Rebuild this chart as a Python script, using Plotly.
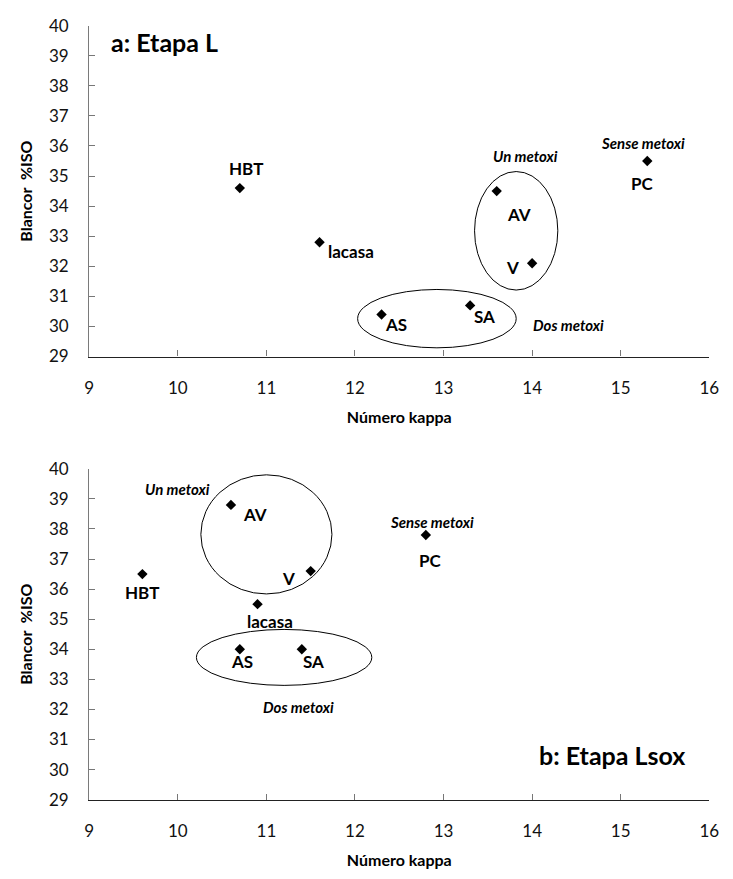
import plotly.graph_objects as go

# Samples and their kappa number / ISO brightness after each stage
samples = ["HBT", "lacasa", "AS", "SA", "AV", "V", "PC"]

kappa_L = [10.7, 11.6, 12.3, 13.3, 13.6, 14.0, 15.3]
bright_L = [34.6, 32.8, 30.4, 30.7, 34.5, 32.1, 35.5]

kappa_Lsox = [9.6, 10.9, 10.7, 11.4, 10.6, 11.5, 12.8]
bright_Lsox = [36.5, 35.5, 34.0, 34.0, 38.8, 36.6, 37.8]

x_ticks = [9, 10, 11, 12, 13, 14, 15, 16]
y_ticks = list(range(29, 41))

# label offsets (pixels) relative to each point
offs_L = {"HBT": (6, -20), "lacasa": (31, 9), "AS": (14, 10), "SA": (14, 11),
          "AV": (22, 23), "V": (-20, 4), "PC": (-5, 22)}
offs_Lsox = {"HBT": (0, 18), "lacasa": (12, 17), "AS": (2, 12), "SA": (12, 12),
             "AV": (24, 10), "V": (-22, 7), "PC": (5, 26)}

FONT = "Lato"
W, H = 733, 879

fig = go.Figure()

fig.add_trace(go.Scatter(x=kappa_L, y=bright_L, mode="markers",
                         marker=dict(symbol="diamond", size=8, color="black"),
                         xaxis="x", yaxis="y", showlegend=False, hoverinfo="skip"))
fig.add_trace(go.Scatter(x=kappa_Lsox, y=bright_Lsox, mode="markers",
                         marker=dict(symbol="diamond", size=8, color="black"),
                         xaxis="x2", yaxis="y2", showlegend=False, hoverinfo="skip"))

annotations = []
for xs, ys, offs, xr, yr in [(kappa_L, bright_L, offs_L, "x", "y"),
                              (kappa_Lsox, bright_Lsox, offs_Lsox, "x2", "y2")]:
    for name, xv, yv in zip(samples, xs, ys):
        dx, dy = offs[name]
        annotations.append(dict(x=xv, y=yv, xref=xr, yref=yr, text=name,
                                showarrow=False, xshift=dx, yshift=-dy,
                                font=dict(family=FONT, size=17, color="black", weight="bold")))

def group_label(text, x, y, xr, yr):
    return dict(x=x, y=y, xref=xr, yref=yr, text=f"<i>{text}</i>", showarrow=False,
                font=dict(family=FONT, size=15, color="black", weight="bold"))

annotations += [
    group_label("Un metoxi", 13.92, 35.68, "x", "y"),
    group_label("Sense metoxi", 15.25, 36.1, "x", "y"),
    group_label("Dos metoxi", 14.41, 30.04, "x", "y"),
    group_label("Un metoxi", 10.0, 39.34, "x2", "y2"),
    group_label("Sense metoxi", 12.87, 38.24, "x2", "y2"),
    group_label("Dos metoxi", 11.36, 32.07, "x2", "y2"),
    dict(x=9.85, y=39.45, xref="x", yref="y", text="a: Etapa L", showarrow=False,
         font=dict(family=FONT, size=25, color="black", weight="bold")),
    dict(x=14.9, y=30.49, xref="x2", yref="y2", text="b: Etapa Lsox", showarrow=False,
         font=dict(family=FONT, size=25, color="black", weight="bold")),
]

# grouping ellipses
shapes = []
for xr, yr, x0, x1, y0, y1 in [("x", "y", 13.35, 14.29, 31.21, 35.15),
                               ("x", "y", 12.03, 13.82, 29.29, 31.23),
                               ("x2", "y2", 10.26, 11.74, 35.84, 39.80),
                               ("x2", "y2", 10.21, 12.19, 32.80, 34.66)]:
    shapes.append(dict(type="circle", xref=xr, yref=yr, x0=x0, x1=x1, y0=y0, y1=y1,
                       line=dict(color="black", width=1)))

x_dom = [86 / W, 719 / W]
y_dom_top = [(H - 354) / H, (H - 15) / H]
y_dom_bot = [(H - 808) / H, (H - 469) / H]

xax = dict(range=[9, 16], tickvals=x_ticks, ticks="inside", ticklen=6,
           tickcolor="#777777", linecolor="#222222", linewidth=1.3, showline=True,
           showgrid=False, zeroline=False, domain=x_dom, ticklabelstandoff=16,
           tickfont=dict(family=FONT, size=17, color="#111111"),
           title=dict(text="<b>Número kappa</b>", standoff=14,
                      font=dict(family=FONT, size=16, color="black")))
yax = dict(range=[29, 40], tickvals=y_ticks, ticks="inside", ticklen=6,
           tickcolor="#777777", linecolor="#7a7a7a", linewidth=1.3, showline=True,
           showgrid=False, zeroline=False, ticklabelstandoff=16,
           tickfont=dict(family=FONT, size=17, color="#111111"),
           title=dict(text="<b>Blancor\u00a0\u00a0%ISO</b>", standoff=12,
                      font=dict(family=FONT, size=16, color="black")))

fig.update_layout(
    width=W, height=H, margin=dict(l=0, r=0, t=0, b=0),
    paper_bgcolor="white", plot_bgcolor="white",
    xaxis=dict(xax, anchor="y"),
    yaxis=dict(yax, domain=y_dom_top, anchor="x"),
    xaxis2=dict(xax, anchor="y2"),
    yaxis2=dict(yax, domain=y_dom_bot, anchor="x2"),
    annotations=annotations, shapes=shapes,
)

fig.write_html("out.html")
